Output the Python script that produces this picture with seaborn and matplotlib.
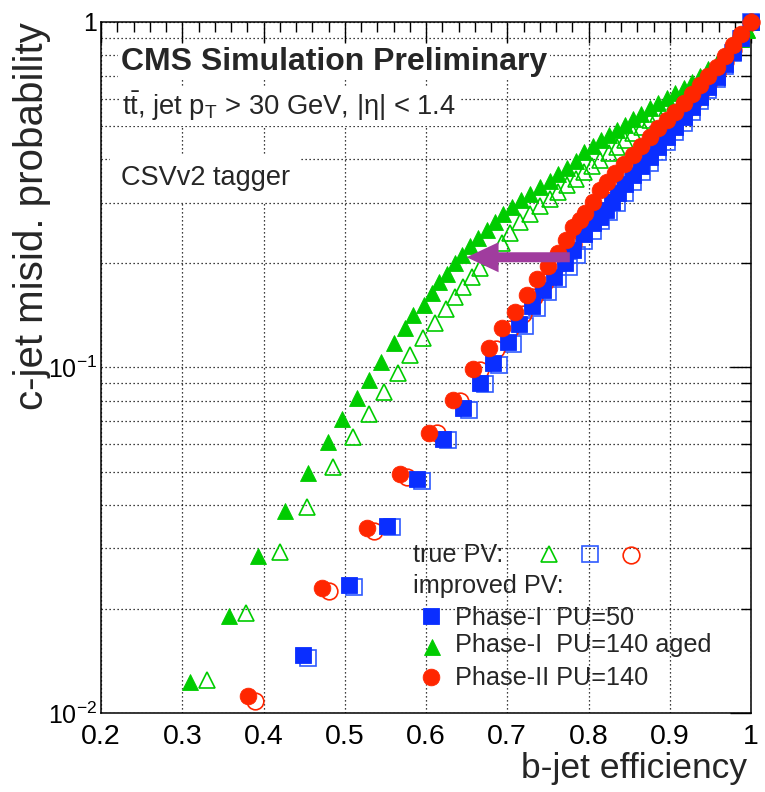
import matplotlib
matplotlib.use("Agg")
import matplotlib.pyplot as plt
import seaborn as sns
import pandas as pd
from matplotlib.ticker import FixedLocator, FixedFormatter, NullFormatter
from matplotlib.lines import Line2D

# ---------------- data ----------------
# Phase-I PU=140 aged, improved PV (filled green triangles)
gf_x = [0.310, 0.357, 0.393, 0.426, 0.455, 0.479, 0.497, 0.515, 0.530, 0.545,
        0.561, 0.574, 0.584, 0.597, 0.607, 0.616, 0.626, 0.636, 0.644, 0.654,
        0.664, 0.675, 0.685, 0.695, 0.706, 0.717, 0.728, 0.740, 0.752, 0.763,
        0.774, 0.785, 0.795, 0.805, 0.815, 0.825, 0.835, 0.845, 0.855, 0.865,
        0.876, 0.886, 0.896, 0.906, 0.917, 0.927, 0.937, 0.947, 0.958, 0.968,
        0.978, 0.988, 0.995, 1.000]
gf_y = [0.0123, 0.0191, 0.0285, 0.0385, 0.0496, 0.0610, 0.0708, 0.0814, 0.0920, 0.104,
        0.1175, 0.130, 0.142, 0.152, 0.164, 0.1765, 0.187, 0.200, 0.212, 0.224,
        0.237, 0.250, 0.264, 0.279, 0.292, 0.305, 0.318, 0.332, 0.347, 0.362,
        0.378, 0.395, 0.421, 0.437, 0.454, 0.470, 0.487, 0.505, 0.524, 0.543,
        0.563, 0.583, 0.602, 0.622, 0.643, 0.670, 0.700, 0.729, 0.759, 0.800,
        0.839, 0.895, 0.945, 1.000]

# Phase-I PU=140 aged, true PV (open green triangles)
go_x = [0.330, 0.379, 0.420, 0.454, 0.485, 0.510, 0.530, 0.548, 0.565, 0.580,
        0.596, 0.611, 0.625, 0.636, 0.646, 0.656, 0.667, 0.679, 0.693, 0.703,
        0.716, 0.728, 0.740, 0.753, 0.763, 0.773, 0.784, 0.794, 0.804, 0.814,
        0.825, 0.835, 0.845, 0.855, 0.866, 0.876, 0.886, 0.896, 0.906, 0.917,
        0.927, 0.937, 0.947, 0.958, 0.968, 0.978, 0.988, 0.995, 1.000]
go_y = [0.0125, 0.0195, 0.0292, 0.0394, 0.0516, 0.0630, 0.0733, 0.0851, 0.0962, 0.1087,
        0.1215, 0.1342, 0.1477, 0.160, 0.171, 0.183, 0.194, 0.209, 0.229, 0.2445,
        0.264, 0.278, 0.293, 0.308, 0.322, 0.337, 0.352, 0.367, 0.382, 0.399,
        0.417, 0.436, 0.456, 0.477, 0.498, 0.520, 0.542, 0.563, 0.585, 0.608,
        0.636, 0.665, 0.695, 0.726, 0.775, 0.830, 0.890, 0.945, 1.000]

# Phase-I PU=50, improved PV (filled blue squares)
bf_x = [0.449, 0.505, 0.552, 0.589, 0.621, 0.646, 0.666, 0.683, 0.701, 0.715,
        0.731, 0.744, 0.757, 0.771, 0.781, 0.794, 0.806, 0.814, 0.822, 0.829,
        0.836, 0.845, 0.855, 0.865, 0.876, 0.886, 0.897, 0.907, 0.917, 0.927,
        0.937, 0.947, 0.958, 0.968, 0.978, 0.988, 1.000]
bf_y = [0.0147, 0.0235, 0.0348, 0.0476, 0.0620, 0.0762, 0.0904, 0.1032, 0.1185, 0.1336,
        0.1507, 0.168, 0.183, 0.200, 0.219, 0.243, 0.2615, 0.273, 0.286, 0.302,
        0.319, 0.339, 0.361, 0.383, 0.407, 0.435, 0.465, 0.497, 0.532, 0.568,
        0.607, 0.650, 0.695, 0.755, 0.819, 0.900, 1.000]

# Phase-I PU=50, true PV (open blue squares)
bo_x = [0.455, 0.511, 0.558, 0.595, 0.627, 0.653, 0.672, 0.690, 0.707, 0.722,
        0.737, 0.750, 0.763, 0.776, 0.786, 0.794, 0.805, 0.815, 0.825, 0.835,
        0.845, 0.855, 0.866, 0.876, 0.886, 0.897, 0.907, 0.917, 0.927, 0.937,
        0.947, 0.958, 0.968, 0.978, 0.988, 1.000]
bo_y = [0.0144, 0.0231, 0.0346, 0.0470, 0.0617, 0.0753, 0.0895, 0.1020, 0.1170, 0.1320,
        0.1485, 0.165, 0.180, 0.196, 0.212, 0.232, 0.249, 0.265, 0.281, 0.299,
        0.321, 0.344, 0.367, 0.391, 0.420, 0.450, 0.480, 0.510, 0.548, 0.590,
        0.635, 0.685, 0.745, 0.812, 0.895, 1.000]

# Phase-II PU=140, improved PV (filled red circles)
rf_x = [0.381, 0.472, 0.527, 0.568, 0.604, 0.633, 0.658, 0.677, 0.694, 0.710,
        0.724, 0.737, 0.750, 0.762, 0.772, 0.781, 0.789, 0.796, 0.805, 0.814,
        0.823, 0.833, 0.844, 0.855, 0.865, 0.876, 0.886, 0.897, 0.907, 0.917,
        0.927, 0.937, 0.947, 0.958, 0.968, 0.978, 0.988, 1.000]
rf_y = [0.0112, 0.0230, 0.0342, 0.0492, 0.0645, 0.0805, 0.0988, 0.114, 0.1305, 0.1447,
        0.162, 0.180, 0.197, 0.214, 0.234, 0.255, 0.268, 0.280, 0.302, 0.3265,
        0.345, 0.366, 0.389, 0.412, 0.438, 0.466, 0.492, 0.520, 0.550, 0.582,
        0.618, 0.657, 0.698, 0.742, 0.798, 0.858, 0.925, 1.000]

# Phase-II PU=140, true PV (open red circles)
ro_x = [0.390, 0.481, 0.536, 0.577, 0.613, 0.642, 0.667, 0.686, 0.703, 0.719,
        0.733, 0.746, 0.758, 0.770, 0.781, 0.791, 0.801, 0.811, 0.822, 0.833,
        0.844, 0.855, 0.866, 0.876, 0.886, 0.897, 0.907, 0.917, 0.927, 0.937,
        0.947, 0.958, 0.968, 0.978, 0.988, 1.000]
ro_y = [0.0108, 0.0225, 0.0337, 0.0481, 0.0645, 0.0800, 0.0985, 0.113, 0.129, 0.143,
        0.160, 0.177, 0.193, 0.210, 0.228, 0.246, 0.265, 0.285, 0.306, 0.328,
        0.351, 0.375, 0.400, 0.426, 0.453, 0.482, 0.512, 0.545, 0.580, 0.620,
        0.662, 0.710, 0.765, 0.830, 0.905, 1.000]

x_ticks = [0.2, 0.3, 0.4, 0.5, 0.6, 0.7, 0.8, 0.9, 1.0]
x_tick_labels = ["0.2", "0.3", "0.4", "0.5", "0.6", "0.7", "0.8", "0.9", "1"]
y_ticks = [0.01, 0.1, 1.0]
y_tick_labels = [r"$10^{-2}$", r"$10^{-1}$", "1"]

arrow_y = 0.2085
arrow_from_x = 0.777
arrow_to_x = 0.650

# ---------------- style ----------------
sns.set_theme(style="white")
plt.rcParams["font.family"] = ["Liberation Sans", "DejaVu Sans"]
plt.rcParams["mathtext.fontset"] = "custom"
plt.rcParams["mathtext.rm"] = "Liberation Sans"
plt.rcParams["mathtext.it"] = "Liberation Sans:italic"
plt.rcParams["mathtext.bf"] = "Liberation Sans:bold"
plt.rcParams["mathtext.default"] = "regular"

GREEN = "#00cc00"
BLUE = "#0a2eff"
BLUE_O = "#2f5bff"
RED = "#ff2600"
PURPLE = "#a03c9e"

MS_SQ, MS_TRI, MS_CIR = 11.5, 12, 12

fig = plt.figure(figsize=(7.65, 7.92), dpi=100)
ax = fig.add_axes([101 / 765, 79 / 792, 650 / 765, 691 / 792])


def draw(xs, ys, marker, ms, color, filled, z=3):
    df = pd.DataFrame({"x": xs, "y": ys})
    kw = dict(marker=marker, markersize=ms, mec=color, mew=1.2 if not filled else 0.6,
              mfc=color if filled else "none", linestyle="",
              color=color, sort=False, estimator=None,
              clip_on=False, zorder=z, legend=False)
    sns.lineplot(data=df, x="x", y="y", ax=ax, **kw)


draw(go_x, go_y, "^", MS_TRI, GREEN, False, z=3)
draw(bo_x, bo_y, "s", MS_SQ, BLUE_O, False, z=3.1)
draw(ro_x, ro_y, "o", MS_CIR, RED, False, z=3.2)
draw(gf_x, gf_y, "^", MS_TRI, GREEN, True, z=3.3)
draw(bf_x, bf_y, "s", MS_SQ, BLUE, True, z=3.4)
draw(rf_x, rf_y, "o", MS_CIR, RED, True, z=3.5)

ax.set_yscale("log")
ax.set_xlim(0.2, 1.0)
ax.set_ylim(0.01, 1.0)

ax.xaxis.set_major_locator(FixedLocator(x_ticks))
ax.xaxis.set_major_formatter(FixedFormatter(x_tick_labels))
ax.xaxis.set_minor_locator(FixedLocator([0.2 + 0.02 * i for i in range(41)]))
ax.yaxis.set_major_locator(FixedLocator(y_ticks))
ax.yaxis.set_major_formatter(FixedFormatter(y_tick_labels))
ax.yaxis.set_minor_locator(FixedLocator([m * d for d in (0.01, 0.1) for m in range(2, 10)]))
ax.yaxis.set_minor_formatter(NullFormatter())

ax.tick_params(which="both", direction="in", top=True, right=True, colors="black")
ax.tick_params(axis="x", labelsize=20.5)
ax.tick_params(axis="y", labelsize=18)
ax.tick_params(which="major", length=15, width=1.0)
ax.tick_params(which="minor", length=7.5, width=1.0)
ax.tick_params(axis="x", which="major", pad=8)
ax.tick_params(axis="y", which="major", pad=3)

grid_kw = dict(color="black", linestyle=(0, (1, 2.2)), linewidth=0.9)
ax.grid(True, axis="x", which="major", **grid_kw)
ax.grid(True, axis="y", which="both", **grid_kw)
ax.set_axisbelow(True)

for s in ax.spines.values():
    s.set_color("black")
    s.set_linewidth(1.1)

ax.set_xlabel("b-jet efficiency", fontsize=25.5, loc="right", va="baseline")
ax.xaxis.set_label_coords(0.994, -0.094)
ax.set_ylabel("c-jet misid. probability", fontsize=29, loc="top")
ax.yaxis.set_label_coords(-0.077, 1.0)

# arrow
ax.annotate("", xy=(arrow_to_x, arrow_y), xytext=(arrow_from_x, arrow_y),
            arrowprops=dict(arrowstyle="simple,head_length=1.15,head_width=1.08,tail_width=0.36",
                            mutation_scale=20, fc=PURPLE, ec="none", lw=0,
                            shrinkA=0, shrinkB=0), zorder=6)

# header texts with white backgrounds (hide grid like the original)
box = dict(facecolor="white", edgecolor="none", pad=2)
ax.text(0.031, 0.9305, "CMS Simulation Preliminary", transform=ax.transAxes,
        fontsize=23, fontweight="bold", va="baseline", ha="left", bbox=box, zorder=5)
ax.text(0.032, 0.8654, r"t$\bar{\mathrm{t}}$, jet p$_{\mathrm{T}}$ > 30 GeV, |η| < 1.4",
        transform=ax.transAxes, fontsize=19.7, va="baseline", ha="left", bbox=box, zorder=5)
ax.text(0.031, 0.764, "CSVv2 tagger", transform=ax.transAxes, fontsize=19.5,
        va="baseline", ha="left", bbox=dict(facecolor="white", edgecolor="none", pad=8),
        zorder=5)

# legend (drawn by hand, as in the original layout)
lfs = 18.2
ax.text(0.4805, 0.219, "true PV:", transform=ax.transAxes, fontsize=lfs, va="baseline", zorder=5)
ax.text(0.4805, 0.174, "improved PV:", transform=ax.transAxes, fontsize=lfs, va="baseline", zorder=5)
ax.text(0.5446, 0.1274, "Phase-I  PU=50", transform=ax.transAxes, fontsize=lfs, va="baseline", zorder=5)
ax.text(0.5446, 0.0888, "Phase-I  PU=140 aged", transform=ax.transAxes, fontsize=lfs, va="baseline", zorder=5)
ax.text(0.5446, 0.0405, "Phase-II PU=140", transform=ax.transAxes, fontsize=lfs, va="baseline", zorder=5)

leg_markers = [
    (0.689, 0.230, "^", MS_TRI, GREEN, False),
    (0.752, 0.230, "s", MS_SQ, BLUE_O, False),
    (0.815, 0.2287, "o", MS_CIR, RED, False),
    (0.507, 0.1404, "s", MS_SQ, BLUE, True),
    (0.509, 0.096, "^", MS_TRI, GREEN, True),
    (0.507, 0.0525, "o", MS_CIR, RED, True),
]
for mx, my, mk, ms, col, filled in leg_markers:
    ax.add_line(Line2D([mx], [my], transform=ax.transAxes, marker=mk, markersize=ms,
                       mfc=col if filled else "none", mec=col, mew=1.2 if not filled else 0.6,
                       linestyle="", zorder=6))

fig.savefig("out.png", dpi=100)
